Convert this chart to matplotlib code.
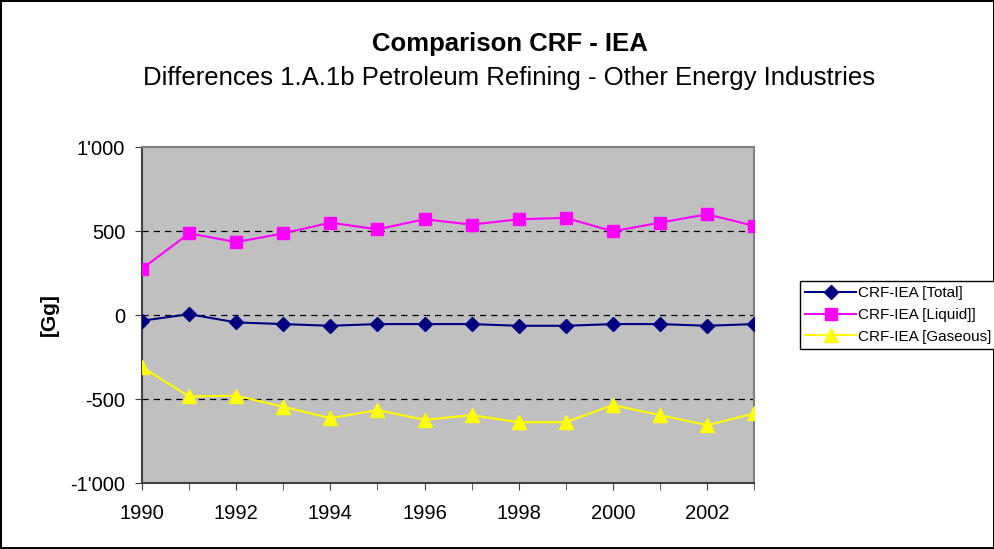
import matplotlib.pyplot as plt
from matplotlib.ticker import FuncFormatter

plt.rcParams['font.family'] = ['Liberation Sans', 'DejaVu Sans']

years = list(range(1990, 2004))
total = [-34, 5, -44, -54, -64, -54, -54, -54, -64, -64, -54, -54, -64, -54]
liquid = [275, 486, 434, 486, 550, 510, 570, 538, 570, 578, 498, 550, 600, 530]
gaseous = [-310, -485, -480, -546, -614, -566, -624, -596, -638, -638, -536, -596, -656, -586]

fig = plt.figure(figsize=(9.95, 5.49), dpi=100)
fig.patch.set_edgecolor('black')
fig.patch.set_linewidth(1.5)
ax = fig.add_axes([0.1427, 0.1202, 0.6153, 0.612])
ax.set_facecolor('#C0C0C0')

ax.plot(years, total, color='#000080', marker='D', markersize=7, lw=1.5,
        label='CRF-IEA [Total]', zorder=3)
ax.plot(years, liquid, color='#FF00FF', marker='s', markersize=8.5, lw=1.5,
        label='CRF-IEA [Liquid]]', zorder=3)
ax.plot(years, gaseous, color='#FFFF00', marker='^', markersize=9.5, lw=1.5,
        label='CRF-IEA [Gaseous]', zorder=3)

ax.set_xlim(1990, 2003)
ax.set_ylim(-1000, 1000)
ax.set_xticks(years, minor=True)
ax.set_xticks(range(1990, 2003, 2))
ax.set_yticks([-1000, -500, 0, 500, 1000])
ax.yaxis.set_major_formatter(FuncFormatter(lambda v, p: f"{int(v):,}".replace(',', "'")))
for y in [-500, 0, 500]:
    ax.axhline(y, color='black', ls=(0, (5, 4)), lw=0.9, zorder=1)

ax.tick_params(axis='both', which='both', direction='out', length=5, labelsize=14.5,
               color='#404040')
ax.tick_params(axis='x', which='major', pad=10)
ax.tick_params(axis='y', which='major', pad=7)
for s in ['left', 'bottom']:
    ax.spines[s].set_color('#404040')
    ax.spines[s].set_linewidth(1.5)
for s in ['top', 'right']:
    ax.spines[s].set_color('#808080')
    ax.spines[s].set_linewidth(1.5)

ax.set_ylabel('[Gg]', fontsize=15, fontweight='bold', labelpad=8)

fig.text(0.512, 0.920, 'Comparison CRF - IEA', ha='center', va='center',
         fontsize=18.5, fontweight='bold')
fig.text(0.512, 0.858, 'Differences 1.A.1b Petroleum Refining - Other Energy Industries',
         ha='center', va='center', fontsize=18.5)

leg = ax.legend(loc='center left', bbox_to_anchor=(1.075, 0.5), fontsize=11,
                frameon=True, fancybox=False, edgecolor='black', framealpha=1,
                borderpad=0.35, labelspacing=0.5, handlelength=3.3, handletextpad=0.15,
                borderaxespad=0)
leg.get_frame().set_linewidth(1.0)

fig.savefig('out.png', dpi=100)
